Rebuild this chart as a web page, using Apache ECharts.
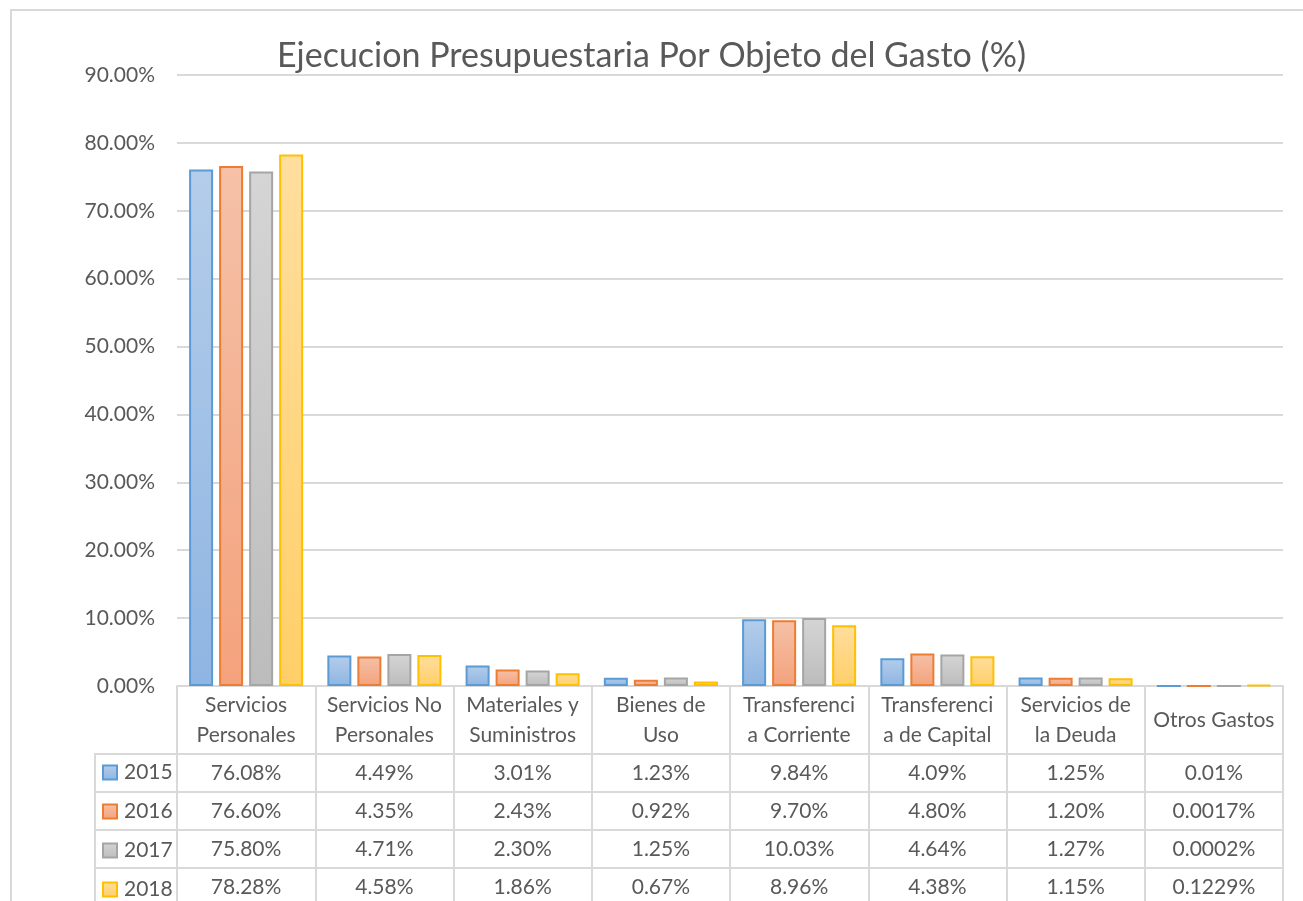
<!DOCTYPE html>
<html>
<head>
<meta charset="utf-8">
<script src="https://cdn.jsdelivr.net/npm/echarts@6/dist/echarts.min.js"></script>
<style>
  html, body { margin: 0; padding: 0; background: #fff; }
  #chart { width: 1303px; height: 901px; }
</style>
</head>
<body>
<div id="chart"></div>
<script>
const categoryLabels = [
  "Servicios\nPersonales",
  "Servicios No\nPersonales",
  "Materiales y\nSuministros",
  "Bienes de\nUso",
  "Transferenci\na Corriente",
  "Transferenci\na de Capital",
  "Servicios de\nla Deuda",
  "Otros Gastos"
];
const years = ["2015", "2016", "2017", "2018"];
const v2015 = [76.08, 4.49, 3.01, 1.23, 9.84, 4.09, 1.25, 0.01];
const v2016 = [76.60, 4.35, 2.43, 0.92, 9.70, 4.80, 1.20, 0.0017];
const v2017 = [75.80, 4.71, 2.30, 1.25, 10.03, 4.64, 1.27, 0.0002];
const v2018 = [78.28, 4.58, 1.86, 0.67, 8.96, 4.38, 1.15, 0.1229];

const seriesValues = [v2015, v2016, v2017, v2018];
// colores: borde, degradado arriba, degradado abajo
const palette = [
  ["#5b9bd5", "#b4cdea", "#8fb5e2"],
  ["#ed7d31", "#f5c1a8", "#f4a27c"],
  ["#a5a5a5", "#d5d5d5", "#bcbcbc"],
  ["#ffc000", "#ffde9e", "#ffcf68"]
];

const FONT = "Lato";
const TXT = "#595959";
const LINE = "#d9d9d9";
const FS = 21;
const GRID_LEFT = 177, GRID_RIGHT = 20, GRID_TOP = 75, GRID_BOTTOM = 215;
const HEADER_H = 68, ROW_H = 38;

function fmtPct(v) {
  let s = String(v);
  let dec = s.indexOf(".") < 0 ? 0 : s.length - s.indexOf(".") - 1;
  return v.toFixed(Math.max(2, dec)) + "%";
}

const chart = echarts.init(document.getElementById("chart"));

// filas de la tabla como ejes de categorias extra
const rowAxes = seriesValues.map((vals, k) => ({
  type: "category",
  gridIndex: 0,
  position: "bottom",
  offset: HEADER_H + ROW_H * k,
  data: vals.map(fmtPct),
  axisLine: { show: true, lineStyle: { color: LINE, width: 2 } },
  axisTick: { show: false },
  axisLabel: {
    interval: 0,
    margin: 19,
    verticalAlign: "middle",
    color: TXT,
    fontFamily: FONT,
    fontSize: FS
  }
}));

// lineas de la columna de leyenda
const chartH = 901;
const axisY = chartH - GRID_BOTTOM;
const leftCol = [];
for (let k = 0; k < years.length; k++) {
  const y = axisY + HEADER_H + ROW_H * k;
  leftCol.push({
    type: "line",
    shape: { x1: 95, y1: y, x2: GRID_LEFT, y2: y },
    style: { stroke: LINE, lineWidth: 2 }
  });
}
leftCol.push({
  type: "line",
  shape: { x1: 95, y1: axisY + HEADER_H - 1, x2: 95, y2: chartH },
  style: { stroke: LINE, lineWidth: 2 }
});

const option = {
  animation: false,
  title: {
    text: "Ejecucion Presupuestaria Por Objeto del Gasto (%)",
    left: 272,
    top: 34,
    textStyle: { color: TXT, fontFamily: FONT, fontSize: 34, fontWeight: "normal" }
  },
  legend: {
    orient: "vertical",
    left: 102,
    top: 762,
    padding: 0,
    icon: "rect",
    itemWidth: 14,
    itemHeight: 14,
    itemGap: 18,
    data: years,
    textStyle: { color: TXT, fontFamily: FONT, fontSize: FS, lineHeight: 20, padding: [0, 0, 0, 2] }
  },
  grid: { left: GRID_LEFT, right: GRID_RIGHT, top: GRID_TOP, bottom: GRID_BOTTOM, containLabel: false },
  xAxis: [
    {
      type: "category",
      data: categoryLabels,
      axisLine: { show: true, lineStyle: { color: LINE, width: 2 } },
      axisTick: { show: true, interval: 0, length: GRID_BOTTOM, lineStyle: { color: LINE, width: 2 } },
      axisLabel: {
        interval: 0,
        margin: 34,
        verticalAlign: "middle",
        lineHeight: 30,
        color: TXT,
        fontFamily: FONT,
        fontSize: FS
      }
    }
  ].concat(rowAxes),
  yAxis: {
    type: "value",
    min: 0,
    max: 90,
    interval: 10,
    axisLine: { show: false },
    axisTick: { show: false },
    splitLine: { lineStyle: { color: LINE, width: 2 } },
    axisLabel: {
      margin: 22,
      color: TXT,
      fontFamily: FONT,
      fontSize: FS,
      formatter: v => v.toFixed(2) + "%"
    }
  },
  series: seriesValues.map((vals, i) => ({
    name: years[i],
    type: "bar",
    xAxisIndex: 0,
    data: vals,
    barGap: "25%",
    barCategoryGap: "17.5%",
    itemStyle: {
      borderColor: palette[i][0],
      borderWidth: 2,
      color: new echarts.graphic.LinearGradient(0, 0, 0, 1, [
        { offset: 0, color: palette[i][1] },
        { offset: 1, color: palette[i][2] }
      ])
    }
  })),
  graphic: [
    {
      type: "rect",
      shape: { x: 11, y: 10, width: 1320, height: 920 },
      style: { fill: "none", stroke: LINE, lineWidth: 2 },
      silent: true
    }
  ].concat(leftCol)
};

chart.setOption(option);
</script>
</body>
</html>
